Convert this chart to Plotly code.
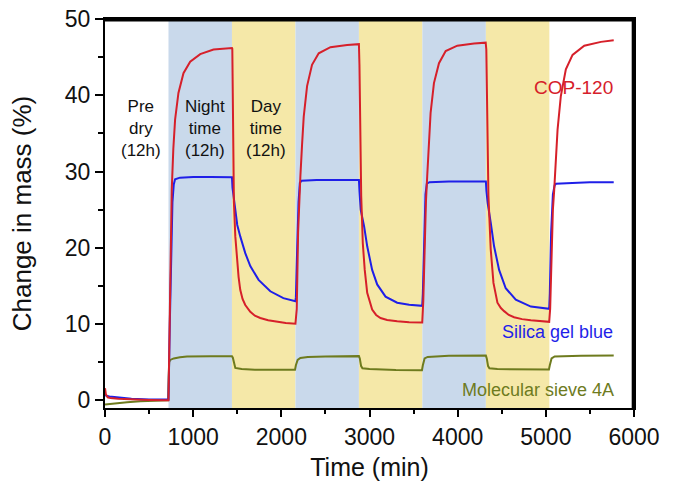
import plotly.graph_objects as go

# ---- data ----
band_starts = [720, 1440, 2160, 2880, 3600, 4320]
band_ends = [1440, 2160, 2880, 3600, 4320, 5040]
band_kind = ["night", "day", "night", "day", "night", "day"]

cop_t = [0, 10, 30, 60, 150, 300, 500, 700, 720,
         740, 757, 775, 795, 833, 890, 966, 1080, 1231, 1440,
         1444, 1452, 1462, 1478, 1496, 1515, 1534, 1560, 1591, 1648, 1700, 1761, 1850, 1932, 2050, 2160,
         2175, 2190, 2200, 2216, 2235, 2254, 2292, 2348, 2424, 2557, 2746, 2880,
         2886, 2896, 2906, 2924, 2946, 2974, 3000, 3030, 3075, 3125, 3200, 3314, 3450, 3598,
         3610, 3625, 3640, 3655, 3673, 3693, 3731, 3788, 3864, 3996, 4186, 4318,
         4325, 4335, 4349, 4375, 4406, 4451, 4490, 4527, 4580, 4640, 4730, 4830, 4940, 5038,
         5049, 5065, 5080, 5095, 5115, 5133, 5170, 5227, 5303, 5436, 5625, 5770]
cop_y = [1.6, 0.8, 0.4, 0.3, 0.2, 0.1, 0.05, 0.0, 0.0,
         15, 27.6, 33, 36.8, 40.3, 42.9, 44.4, 45.4, 46.0, 46.2,
         46.1, 36, 26, 21.5, 18.4, 16.2, 14.5, 13.3, 12.5, 11.6, 11.1, 10.8, 10.5, 10.35, 10.15, 10.05,
         12, 22, 26, 29.4, 33.5, 37.2, 41.2, 44.0, 45.5, 46.3, 46.6, 46.7,
         44, 33, 26.8, 20.6, 17.1, 14.1, 12.9, 11.9, 11.2, 10.8, 10.55, 10.36, 10.25, 10.2,
         13, 21, 26, 29.5, 34, 37.7, 41.6, 44.2, 45.8, 46.5, 46.8, 46.9,
         46, 36, 26.8, 19.8, 15.4, 12.8, 12.1, 11.7, 11.2, 10.9, 10.65, 10.5, 10.38, 10.3,
         12, 20, 25, 27.6, 32, 35.5, 39.9, 43.4, 45.3, 46.5, 47.0, 47.2]

sil_t = [0, 15, 50, 150, 300, 500, 700, 720,
         735, 750, 765, 780, 795, 850, 1000, 1200, 1440,
         1446, 1460, 1477, 1500, 1534, 1591, 1648, 1742, 1875, 2023, 2160,
         2165, 2180, 2195, 2210, 2230, 2400, 2880,
         2886, 2900, 2939, 2974, 3030, 3087, 3182, 3314, 3450, 3598,
         3605, 3620, 3635, 3650, 3680, 3900, 4320,
         4326, 4340, 4375, 4413, 4470, 4545, 4659, 4830, 5038,
         5045, 5060, 5080, 5100, 5114, 5300, 5500, 5770]
sil_y = [0.8, 0.6, 0.5, 0.35, 0.2, 0.12, 0.1, 0.1,
         10, 20, 26, 28.3, 29.0, 29.2, 29.3, 29.3, 29.25,
         27.9, 26.5, 24.6, 23.0, 21.5, 19.3, 17.6, 15.8, 14.3, 13.4, 13.0,
         13.5, 20, 26, 28.5, 28.8, 28.9, 28.9,
         27.5, 25.0, 22.8, 20.2, 17.1, 15.2, 13.6, 12.8, 12.55, 12.4,
         14, 22, 27, 28.4, 28.6, 28.7, 28.7,
         27.5, 25.9, 23.3, 20.2, 17.1, 14.7, 13.2, 12.3, 12.0,
         14, 22, 27, 28.2, 28.4, 28.5, 28.6, 28.6]

mol_t = [0, 100, 250, 400, 550, 700, 716,
         722, 728, 740, 780, 850, 930, 1200, 1440,
         1450, 1465, 1478, 1550, 1700, 2000, 2155,
         2165, 2185, 2216, 2300, 2500, 2880,
         2890, 2905, 2920, 3000, 3300, 3595,
         3605, 3625, 3660, 3900, 4320,
         4330, 4345, 4360, 4450, 4800, 5035,
         5045, 5065, 5100, 5400, 5770]
mol_y = [-0.55, -0.4, -0.25, -0.12, -0.05, 0.0, 0.0,
         3, 5.0, 5.3, 5.5, 5.65, 5.75, 5.8, 5.8,
         5.6, 4.6, 4.25, 4.12, 4.02, 4.0, 4.0,
         4.6, 5.3, 5.55, 5.7, 5.75, 5.8,
         5.5, 4.5, 4.2, 4.1, 3.98, 3.95,
         4.6, 5.5, 5.7, 5.85, 5.87,
         5.5, 4.5, 4.2, 4.1, 4.05, 4.05,
         4.6, 5.5, 5.75, 5.85, 5.87]

x_ticks = [0, 1000, 2000, 3000, 4000, 5000, 6000]
y_ticks = [0, 10, 20, 30, 40, 50]

NIGHT = "#C9D9EB"
DAY = "#F5E8A8"
RED = "#D6202A"
BLUE = "#1F1FE8"
OLIVE = "#6E7B1E"
FONT = "Liberation Sans, Arial, sans-serif"

fig = go.Figure()

for s, e, k in zip(band_starts, band_ends, band_kind):
    fig.add_vrect(x0=s, x1=e, fillcolor=NIGHT if k == "night" else DAY,
                  opacity=1, line_width=0, layer="below")

fig.add_trace(go.Scatter(x=mol_t, y=mol_y, mode="lines",
                         line=dict(color=OLIVE, width=2), name="Molecular sieve 4A"))
fig.add_trace(go.Scatter(x=sil_t, y=sil_y, mode="lines",
                         line=dict(color=BLUE, width=2), name="Silica gel blue"))
fig.add_trace(go.Scatter(x=cop_t, y=cop_y, mode="lines",
                         line=dict(color=RED, width=2), name="COP-120"))

# plot frame (top and right sides), slightly inset so it stays inside the plot area
fig.add_shape(type="line", xref="paper", yref="paper", x0=0, x1=1, y0=0.997, y1=0.997,
              line=dict(color="black", width=2.5), layer="above")
fig.add_shape(type="line", xref="paper", yref="paper", x0=0.998, x1=0.998, y0=0, y1=1,
              line=dict(color="black", width=2.5), layer="above")

ann_font = dict(family=FONT, size=17, color="#111111")
fig.add_annotation(x=405, y=35.6, text="Pre<br>dry<br>(12h)", showarrow=False,
                   font=ann_font, align="center")
fig.add_annotation(x=1130, y=35.6, text="Night<br>time<br>(12h)", showarrow=False,
                   font=ann_font, align="center")
fig.add_annotation(x=1825, y=35.6, text="Day<br>time<br>(12h)", showarrow=False,
                   font=ann_font, align="center")

fig.add_annotation(x=5790, y=41.0, text="COP-120", showarrow=False, xanchor="right",
                   font=dict(family=FONT, size=19, color=RED))
fig.add_annotation(x=5790, y=8.9, text="Silica gel blue", showarrow=False, xanchor="right",
                   font=dict(family=FONT, size=18, color=BLUE))
fig.add_annotation(x=5800, y=1.4, text="Molecular sieve 4A", showarrow=False, xanchor="right",
                   font=dict(family=FONT, size=18, color=OLIVE))

fig.update_layout(
    width=678, height=491,
    margin=dict(l=105, r=44, t=19, b=83),
    paper_bgcolor="white", plot_bgcolor="white",
    showlegend=False,
    font=dict(family=FONT, color="#111111"),
)
fig.update_xaxes(
    range=[0, 6000], tickvals=x_ticks, ticks="outside", ticklen=7, tickwidth=1.5,
    tickcolor="black", showline=True, linecolor="black", linewidth=2, mirror=True,
    showgrid=False, zeroline=False, tickfont=dict(size=23, family=FONT),
    minor=dict(dtick=500, ticks="outside", ticklen=4, tickcolor="black", tickwidth=1.5),
    title=dict(text="Time (min)", font=dict(size=25, family=FONT), standoff=10),
    automargin=False,
)
fig.update_yaxes(
    range=[-1, 50], tickvals=y_ticks, ticks="outside", ticklen=8, tickwidth=1.5,
    tickcolor="black", showline=True, linecolor="black", linewidth=2, mirror=True,
    showgrid=False, zeroline=False, tickfont=dict(size=23, family=FONT),
    minor=dict(dtick=5, ticks="outside", ticklen=5, tickcolor="black", tickwidth=1.5),
    title=dict(text="Change in mass (%)", font=dict(size=26, family=FONT), standoff=26),
    automargin=False,
)

fig.write_html("out.html", config={"displayModeBar": False},
               post_script="document.body.style.margin='0';document.body.style.overflow='hidden';")
